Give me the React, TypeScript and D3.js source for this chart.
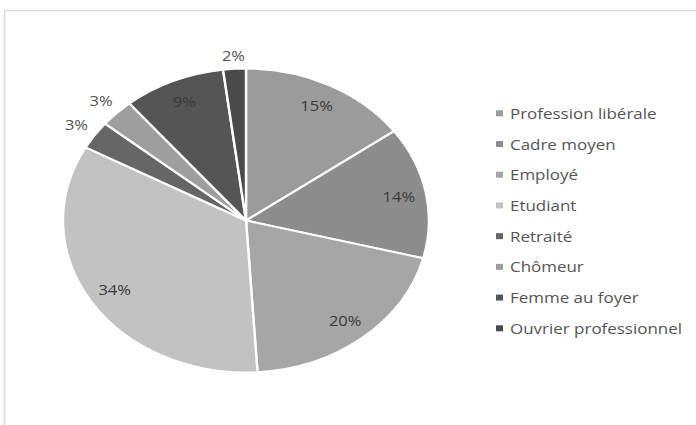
import React from "react";
import * as d3 from "d3";

const categories = [
  "Profession libérale",
  "Cadre moyen",
  "Employé",
  "Etudiant",
  "Retraité",
  "Chômeur",
  "Femme au foyer",
  "Ouvrier professionnel",
];
const values = [15, 14, 20, 34, 3, 3, 9, 2];
const labels = ["15%", "14%", "20%", "34%", "3%", "3%", "9%", "2%"];
const colors = ["#9b9b9b", "#8d8d8d", "#a6a6a6", "#c2c2c2", "#666666", "#9e9e9e", "#555555", "#4a4a4a"];
const outside = [false, false, false, false, true, true, false, true];

const W = 696;
const H = 425;
const cx = 246;
const cy = 220.5;
const ry = 152;
const rx = 183;
const sx = rx / ry;

export default function App() {
  const pie = d3.pie<number>().sort(null).value((d) => d);
  const arcs = pie(values);
  const arc = d3.arc<d3.PieArcDatum<number>>().innerRadius(0).outerRadius(ry);
  const legendY = d3.scalePoint<string>().domain(categories).range([113.3, 328.3]);

  return (
    <svg
      width={W}
      height={H}
      style={{ position: "fixed", left: 0, top: 0, background: "#fff" }}
      fontFamily="'Open Sans', sans-serif"
    >
      <rect x={4.5} y={10.5} width={900} height={600} fill="#fff" stroke="#d9d9d9" strokeWidth={1.5} />
      <g transform={`translate(${cx},${cy}) scale(${sx},1)`}>
        {arcs.map((a, i) => (
          <path key={i} d={arc(a) || ""} fill={colors[i]} stroke="#fff" strokeWidth={2} />
        ))}
      </g>
      {arcs.map((a, i) => {
        const mid = (a.startAngle + a.endAngle) / 2;
        const r = outside[i] ? (i === 7 ? 1.09 : 1.12) : 0.85;
        const x = cx + Math.sin(mid) * rx * r;
        const y = cy - Math.cos(mid) * ry * r;
        return (
          <text
            key={i}
            x={x}
            y={y}
            textAnchor="middle"
            dominantBaseline="central"
            fontSize={14}
            fill={outside[i] ? "#555555" : "#3a3a3a"}
            transform={`translate(${x},${y}) scale(1.18,1) translate(${-x},${-y})`}
          >
            {labels[i]}
          </text>
        );
      })}
      {categories.map((c, i) => {
        const y = legendY(c) as number;
        return (
          <g key={c}>
            <rect x={496} y={y - 3} width={7} height={6} fill={colors[i]} />
            <text
              x={510}
              y={y}
              dominantBaseline="central"
              fontSize={14.5}
              fill="#555555"
              transform={`translate(510,${y}) scale(1.17,1) translate(-510,${-y})`}
            >
              {c}
            </text>
          </g>
        );
      })}
    </svg>
  );
}
